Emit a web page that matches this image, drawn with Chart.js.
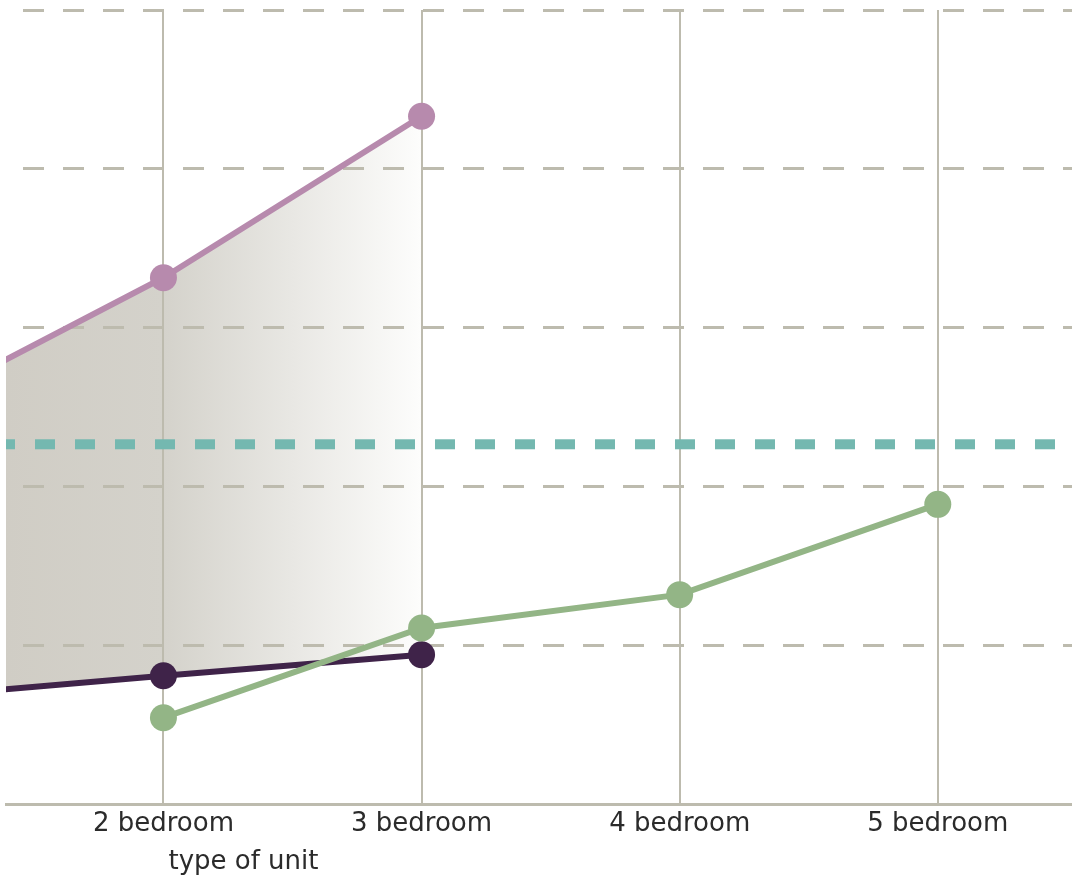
<!DOCTYPE html>
<html>
<head>
<meta charset="utf-8">
<script src="https://cdn.jsdelivr.net/npm/chart.js@4/dist/chart.umd.min.js"></script>
<style>
  html, body { margin: 0; padding: 0; background: #fff; }
  #wrap { width: 1072px; height: 880px; }
</style>
</head>
<body>
<div id="wrap"><canvas id="chart" width="1072" height="880"></canvas></div>
<script>
const categories = ['1 bedroom', '2 bedroom', '3 bedroom', '4 bedroom', '5 bedroom'];
const upperRent = [1235, 1658, 2166, null, null];
const lowerRent = [336, 406, 472, null, null];
const otherRent = [null, 274, 556, 661, 945];
const referenceLine = 1134;
const xRange = [1.39, 5.52];
const yTicks = [0, 500, 1000, 1500, 2000, 2500];

const FONT = '"DejaVu Sans", sans-serif';

const toPoints = arr => arr.map((v, i) => ({ x: i + 1, y: v })).filter(p => p.y !== null);

function fadeFill(ctx) {
  const chart = ctx.chart;
  const area = chart.chartArea;
  if (!area) return 'rgba(208,205,197,1)';
  const xs = chart.scales.x;
  const x0 = area.left;
  const x1 = xs.getPixelForValue(3);
  const g = chart.ctx.createLinearGradient(x0, 0, x1, 0);
  g.addColorStop(0, '#d0cdc5');
  g.addColorStop(0.38, '#d4d2cb');
  g.addColorStop(1, '#fdfdfc');
  return g;
}

const axisTitle = {
  id: 'axisTitle',
  afterDraw(chart) {
    const ctx = chart.ctx;
    const xs = chart.scales.x;
    ctx.save();
    ctx.font = '26px ' + FONT;
    ctx.fillStyle = '#2b2b2b';
    ctx.textAlign = 'center';
    ctx.textBaseline = 'middle';
    ctx.fillText('type of unit', xs.getPixelForValue(2.31), 862);
    ctx.restore();
  }
};

new Chart(document.getElementById('chart'), {
  type: 'line',
  data: {
    datasets: [
      {
        label: 'upper',
        data: toPoints(upperRent),
        borderColor: '#b78aad',
        backgroundColor: fadeFill,
        pointBackgroundColor: '#b78aad',
        fill: '+1',
        borderWidth: 6,
        pointRadius: 13.5,
        pointBorderWidth: 0,
        order: 2
      },
      {
        label: 'lower',
        data: toPoints(lowerRent),
        borderColor: '#3f2349',
        pointBackgroundColor: '#3f2349',
        fill: false,
        borderWidth: 6,
        pointRadius: 13.5,
        pointBorderWidth: 0,
        order: 1
      },
      {
        label: 'other',
        data: toPoints(otherRent),
        borderColor: '#93b586',
        pointBackgroundColor: '#93b586',
        fill: false,
        borderWidth: 6,
        pointRadius: 13.5,
        pointBorderWidth: 0,
        order: 0
      },
      {
        label: 'reference',
        data: xRange.map(x => ({ x, y: referenceLine })),
        borderColor: '#74b8b0',
        borderWidth: 10,
        borderDash: [20, 20],
        borderDashOffset: 11,
        pointRadius: 0,
        fill: false,
        order: 3
      }
    ]
  },
  options: {
    responsive: false,
    animation: false,
    events: [],
    layout: { autoPadding: false, padding: { left: 6, right: 0, top: 10, bottom: 36 } },
    plugins: {
      legend: { display: false },
      tooltip: { enabled: false },
      filler: { drawTime: 'beforeDraw' }
    },
    scales: {
      x: {
        type: 'linear',
        min: xRange[0],
        max: xRange[1],
        ticks: {
          stepSize: 1,
          includeBounds: false,
          padding: 4,
          color: '#2b2b2b',
          font: { family: FONT, size: 26 },
          callback: v => categories[v - 1] || ''
        },
        grid: { color: '#bdbbae', lineWidth: 2, drawTicks: false },
        border: { display: true, color: '#bdbbae', width: 3 }
      },
      y: {
        min: yTicks[0],
        max: yTicks[yTicks.length - 1],
        afterBuildTicks: s => { s.ticks = yTicks.map(v => ({ value: v })); },
        ticks: { display: false },
        grid: { color: '#bdbbae', lineWidth: 3, drawTicks: false },
        border: { display: false, dash: [21, 19], dashOffset: 23 }
      }
    }
  },
  plugins: [axisTitle]
});
</script>
</body>
</html>
